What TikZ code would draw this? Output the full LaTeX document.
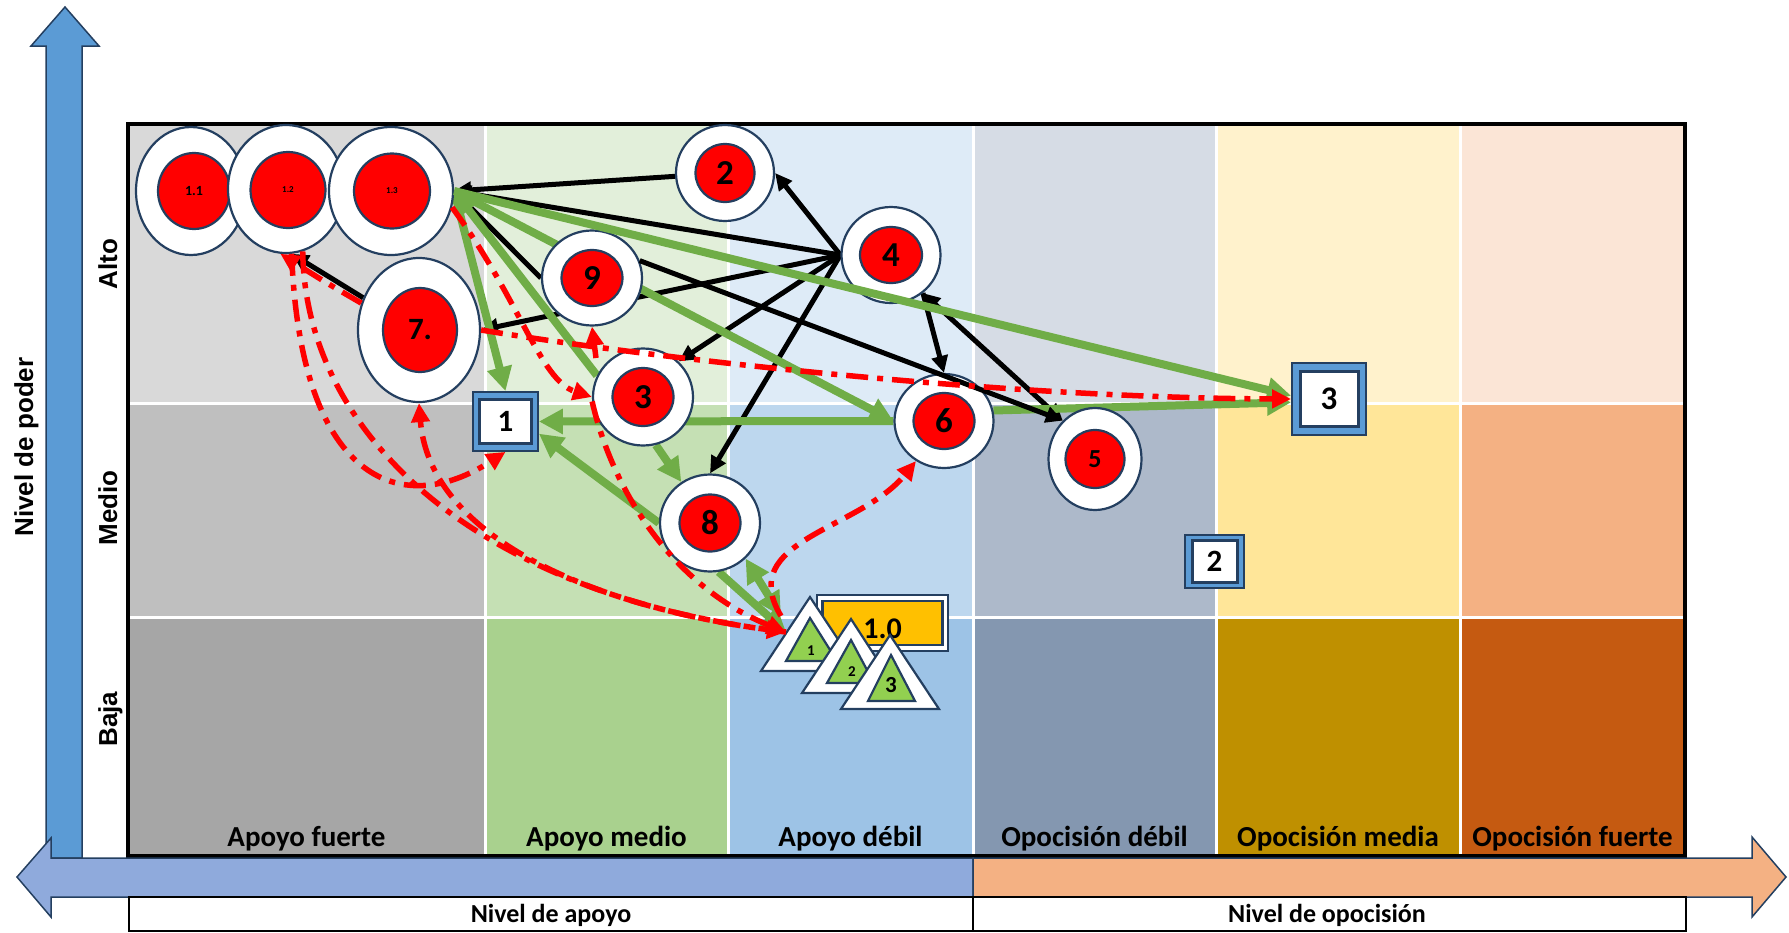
\documentclass[tikz,border=0pt]{standalone}
\usepackage{fontspec}
\newfontfamily\calfont{Carlito}
\newfontfamily\arfont{Liberation Sans}
\usetikzlibrary{shapes.geometric,arrows.meta}
\pgfdeclarelayer{bg}
\pgfdeclarelayer{lines}
\pgfdeclarelayer{top}
\pgfsetlayers{bg,lines,main,top}
\definecolor{edge}{HTML}{243F60}
\definecolor{cAa}{HTML}{D9D9D9}\definecolor{cAb}{HTML}{BFBFBF}\definecolor{cAc}{HTML}{A6A6A6}
\definecolor{cBa}{HTML}{E2EFDA}\definecolor{cBb}{HTML}{C5E0B4}\definecolor{cBc}{HTML}{A9D18E}
\definecolor{cCa}{HTML}{DEEBF7}\definecolor{cCb}{HTML}{BDD7EE}\definecolor{cCc}{HTML}{9DC3E6}
\definecolor{cDa}{HTML}{D6DCE5}\definecolor{cDb}{HTML}{ADB9CA}\definecolor{cDc}{HTML}{8497B0}
\definecolor{cEa}{HTML}{FFF2CC}\definecolor{cEb}{HTML}{FFE699}\definecolor{cEc}{HTML}{BF9000}
\definecolor{cFa}{HTML}{FBE5D6}\definecolor{cFb}{HTML}{F4B183}\definecolor{cFc}{HTML}{C55A11}
\definecolor{boxblue}{HTML}{5B9BD5}
\definecolor{arrleft}{HTML}{8FAADC}
\definecolor{arrright}{HTML}{F4B183}
\definecolor{goldbox}{HTML}{FFC000}
\definecolor{trigreen}{HTML}{92D050}
\definecolor{lingreen}{HTML}{70AD47}
\definecolor{redline}{HTML}{FF0000}
\begin{document}
\begin{tikzpicture}[x=1pt,y=-1pt,
  oring/.style={ellipse, draw=edge, line width=2.2pt, fill=white, inner sep=0pt},
  iring/.style={ellipse, draw=edge, line width=2.2pt, fill=red, inner sep=0pt,
    font=\calfont\bfseries\fontsize{35}{35}\selectfont},
  bxo/.style={rectangle, draw=edge, line width=1.8pt, fill=boxblue, inner sep=0pt},
  bxi/.style={rectangle, draw=edge, line width=3pt, fill=white, inner sep=0pt,
    font=\calfont\bfseries\fontsize{31}{31}\selectfont},
  trio/.style={draw=edge, line width=2.2pt, fill=white, line join=miter},
  trii/.style={draw=edge, line width=2.2pt, fill=trigreen, line join=miter},
  collab/.style={anchor=base, font=\calfont\bfseries\fontsize{29}{29}\selectfont},
  botlab/.style={anchor=base, font=\calfont\bfseries\fontsize{26}{26}\selectfont},
  rowlab/.style={anchor=base, rotate=90, font=\arfont\bfseries\fontsize{26}{26}\selectfont},
  bk/.style={draw=black, line width=5pt, -{Triangle[length=17pt,width=16pt]}},
  bkd/.style={draw=black, line width=5pt, {Triangle[length=17pt,width=16pt]}-{Triangle[length=17pt,width=16pt]}},
  bkl/.style={draw=black, line width=5pt},
  gr/.style={draw=lingreen, line width=8pt, -{Triangle[length=24pt,width=24pt]}},
  grd/.style={draw=lingreen, line width=8pt, {Triangle[length=24pt,width=24pt]}-{Triangle[length=24pt,width=24pt]}},
  rd/.style={draw=redline, line width=5.5pt, dash pattern=on 22pt off 9pt on 6pt off 9pt,
    -{Triangle[length=19pt,width=18pt]}}
]
\useasboundingbox (0,0) rectangle (1789,932);

\begin{pgfonlayer}{bg}
% grid cells
\fill[cAa] (128,124) rectangle (485,403);
\fill[cAb] (128,403) rectangle (485,617);
\fill[cAc] (128,617) rectangle (485,856);
\fill[cBa] (485,124) rectangle (728,403);
\fill[cBb] (485,403) rectangle (728,617);
\fill[cBc] (485,617) rectangle (728,856);
\fill[cCa] (728,124) rectangle (973,403);
\fill[cCb] (728,403) rectangle (973,617);
\fill[cCc] (728,617) rectangle (973,856);
\fill[cDa] (973,124) rectangle (1216,403);
\fill[cDb] (973,403) rectangle (1216,617);
\fill[cDc] (973,617) rectangle (1216,856);
\fill[cEa] (1216,124) rectangle (1460,403);
\fill[cEb] (1216,403) rectangle (1460,617);
\fill[cEc] (1216,617) rectangle (1460,856);
\fill[cFa] (1460,124) rectangle (1685,403);
\fill[cFb] (1460,403) rectangle (1685,617);
\fill[cFc] (1460,617) rectangle (1685,856);
\draw[white, line width=3pt] (485,124) -- (485,856) (728,124) -- (728,856)
  (973,124) -- (973,856) (1216,124) -- (1216,856) (1460,124) -- (1460,856)
  (128,403) -- (1685,403) (128,617) -- (1685,617);
\draw[black, line width=4pt] (128,124) rectangle (1685,856);
% vertical arrow
\filldraw[fill=boxblue, draw=edge, line width=1.5pt, line join=miter]
  (46,858) -- (46,46) -- (31,46) -- (65,7) -- (99,46) -- (82,46) -- (82,858) -- cycle;
% horizontal double arrow
\filldraw[fill=arrleft, draw=edge, line width=1.5pt, line join=miter]
  (973,858) -- (51,858) -- (51,838) -- (17,877) -- (51,917) -- (51,897) -- (973,897) -- cycle;
\filldraw[fill=arrright, draw=edge, line width=1.5pt, line join=miter]
  (973,858) -- (1752,858) -- (1752,837) -- (1786,877) -- (1752,917) -- (1752,897) -- (973,897) -- cycle;
% label boxes
\draw[black, line width=1.5pt] (129,897) rectangle (973,931);
\draw[black, line width=1.5pt] (973,897) rectangle (1686,931);
\end{pgfonlayer}

% axis and column labels
\node[rowlab] (lpoder) at (33,447) {Nivel de poder};
\node[rowlab] (lalto) at (117,264) {Alto};
\node[rowlab] (lmedio) at (117,508) {Medio};
\node[rowlab] (lbaja) at (117,719) {Baja};
\node[collab] (k1) at (306.5,846) {Apoyo fuerte};
\node[collab] (k2) at (606.5,846) {Apoyo medio};
\node[collab] (k3) at (850.5,846) {Apoyo débil};
\node[collab] (k4) at (1094.5,846) {Opocisión débil};
\node[collab] (k5) at (1338,846) {Opocisión media};
\node[collab] (k6) at (1572.5,846) {Opocisión fuerte};
\node[botlab] (napoyo) at (551,922) {Nivel de apoyo};
\node[botlab] (nopos) at (1327,922) {Nivel de opocisión};

% stakeholders (circles)
\node[oring, minimum width=110pt, minimum height=128pt] (c11) at (191,191) {};
\node[iring, minimum width=72pt, minimum height=76pt, font=\calfont\bfseries\fontsize{14}{14}\selectfont] (c11i) at (194,191) {1.1};
\node[oring, minimum width=116pt, minimum height=128pt] (c12) at (286,189) {};
\node[iring, minimum width=75pt, minimum height=76pt, font=\calfont\bfseries\fontsize{9}{9}\selectfont] (c12i) at (288,190) {1.2};
\node[oring, minimum width=124pt, minimum height=128pt] (c13) at (391,191) {};
\node[iring, minimum width=76pt, minimum height=75pt, font=\calfont\bfseries\fontsize{9}{9}\selectfont] (c13i) at (392,191) {1.3};
\node[oring, minimum width=122pt, minimum height=144pt] (c7) at (419,330) {};
\node[iring, minimum width=74pt, minimum height=84pt, font=\calfont\bfseries\fontsize{31}{31}\selectfont] (c7i) at (420,330) {7.};
\node[oring, minimum width=98pt, minimum height=96pt] (c2) at (725,173) {};
\node[iring, minimum width=59pt, minimum height=58pt] (c2i) at (c2) {2};
\node[oring, minimum width=99pt, minimum height=96pt] (c4) at (891,255) {};
\node[iring, minimum width=62pt, minimum height=56pt] (c4i) at (c4) {4};
\node[oring, minimum width=100pt, minimum height=95pt] (c9) at (592,278) {};
\node[iring, minimum width=61pt, minimum height=56pt] (c9i) at (c9) {9};
\node[oring, minimum width=100pt, minimum height=97pt] (c3) at (643,397) {};
\node[iring, minimum width=61pt, minimum height=58pt] (c3i) at (c3) {3};
\node[oring, minimum width=99pt, minimum height=94pt] (c6) at (944,421) {};
\node[iring, minimum width=61pt, minimum height=56pt] (c6i) at (c6) {6};
\node[oring, minimum width=100pt, minimum height=97pt] (c8) at (710,523) {};
\node[iring, minimum width=61pt, minimum height=57pt] (c8i) at (c8) {8};
\node[oring, minimum width=93pt, minimum height=102pt] (c5) at (1095,459) {};
\node[iring, minimum width=59pt, minimum height=58pt, font=\calfont\bfseries\fontsize{26}{26}\selectfont] (c5i) at (c5) {5};

% boxes
\node[bxo, minimum width=65pt, minimum height=59pt] (b1) at (505.5,421.5) {};
\node[bxi, minimum width=52pt, minimum height=44pt] (b1i) at (b1) {1};
\node[bxo, minimum width=74pt, minimum height=72pt] (b3) at (1329,399) {};
\node[bxi, minimum width=58pt, minimum height=55pt, font=\calfont\bfseries\fontsize{33}{33}\selectfont] (b3i) at (b3) {3};
\node[bxo, minimum width=59pt, minimum height=53pt] (b2) at (1214.5,561.5) {};
\node[bxi, minimum width=45pt, minimum height=42pt] (b2i) at (b2) {2};

% 1.0 rectangle and triangles
\node[rectangle, draw=edge, line width=2.2pt, fill=white, minimum width=131pt, minimum height=56pt, inner sep=0pt] (r10) at (882.5,623) {};
\node[rectangle, draw=edge, line width=2.2pt, fill=goldbox, minimum width=120pt, minimum height=44pt, inner sep=0pt, text height=31pt,
  font=\calfont\bfseries\fontsize{30}{30}\selectfont] (r10i) at (r10) {1.0};
\filldraw[trio] (810,597) -- (859,671) -- (761,671) -- cycle;
\filldraw[trii] (810,618) -- (837,661) -- (786,661) -- cycle;
\node[font=\calfont\bfseries\fontsize{15}{15}\selectfont] (t1lab) at (811,651) {1};
\filldraw[trio] (851,619) -- (899,693) -- (802,693) -- cycle;
\filldraw[trii] (851,640) -- (874,683) -- (827,683) -- cycle;
\node[font=\calfont\bfseries\fontsize{15}{15}\selectfont] (t2lab) at (852,672) {2};
\filldraw[trio] (890,635) -- (939,709) -- (841,709) -- cycle;
\filldraw[trii] (891,655) -- (915,701) -- (868,701) -- cycle;
\node[font=\calfont\bfseries\fontsize{23}{23}\selectfont] (t3lab) at (891,685) {3};
\coordinate (t1L) at (786,632);
\coordinate (t1T) at (781,616);
\coordinate (r9) at (596,358);

% connectors behind the nodes
\begin{pgfonlayer}{lines}
\draw[bk] (c2) -- (c13.east);
\draw[bk] (c4.west) -- (c13.east);
\draw[bk] (c4.west) -- (c2.east);
\draw[bk] (c4.west) -- (c3.45);
\draw[bk] (c4.west) -- (c8.north);
\draw[bk] (c4.west) -- (c7.east);
\draw[bk] (c4.-50) -- (c6.north);
\draw[bkd] (c4.-50) -- (c5.130);
\draw[bkl] (c13.east) -- (c9.west);
\draw[bk] (c7.150) -- (c12.-85);
\draw[gr] (c13.east) -- (b1.north);
\draw[gr] (c3.155) -- (c13.east);
\draw[gr] (c13.east) -- (c6.west);
\draw[gr] (c6.12) -- (b3.-175);
\draw[gr] (c6.west) -- (b1.east);
\draw[gr] (c8.west) -- (b1.-20);
\draw[gr] (c3.-75) -- (c8.125);
\draw[gr] (c8.-80) -- (t1L);
\draw[grd] (c8.-45) -- (t1T);
\end{pgfonlayer}

% connectors over the nodes
\begin{pgfonlayer}{top}
\draw[gr] (c13.east) -- (b3.175);
\draw[bk] (c9.20) -- (c5.130);
\draw[rd] (c7.east) .. controls (650,358) and (1000,398) .. (b3.west);
\draw[rd] (c7.155) .. controls (325,282) .. (c12.-95);
\draw[rd] (c12.-85) .. controls (300,480) and (400,520) .. (b1.south);
\draw[rd] (c12.-75) .. controls (305,430) and (470,590) .. (t1L);
\draw[rd] (t1L) .. controls (600,610) and (430,540) .. (c7.south);
\draw[rd] (c13.-15) .. controls (520,300) and (540,380) .. (c3.west);
\draw[rd] (r9) -- (c9.south);
\draw[rd] (c3.185) .. controls (615,500) and (680,590) .. (t1L);
\draw[rd] (t1T) .. controls (735,540) and (860,530) .. (c6.-125);
\end{pgfonlayer}
\end{tikzpicture}
\end{document}
